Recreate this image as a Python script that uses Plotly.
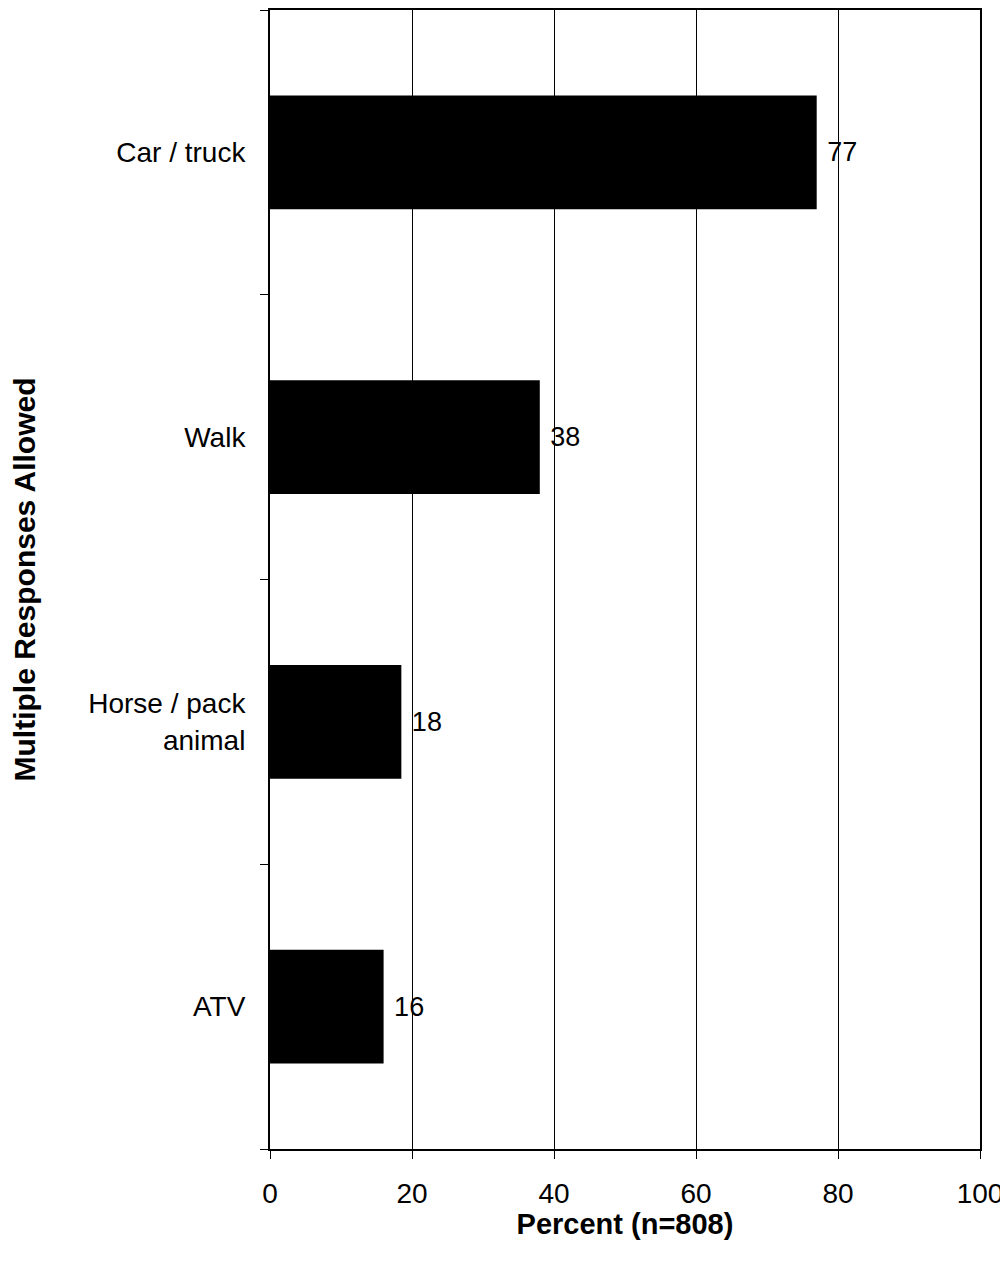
import plotly.graph_objects as go

categories = ["Car / truck", "Walk", "Horse / pack<br>animal", "ATV"]
values = [77, 38, 18.5, 16]
labels = ["77", "38", "18", "16"]
x_ticks = [0, 20, 40, 60, 80, 100]

fig = go.Figure(go.Bar(
    x=values, y=categories, orientation="h",
    marker=dict(color="black", line=dict(width=0)),
    width=0.4,
    text=[" " + t for t in labels], textposition="outside",
    textfont=dict(family="Liberation Sans, Arial", size=27, color="black"),
    cliponaxis=False,
))

fig.update_layout(
    width=1000, height=1232,
    margin=dict(l=262, r=28, t=2, b=91),
    plot_bgcolor="white", paper_bgcolor="white",
    font=dict(family="Liberation Sans, Arial", size=28, color="black"),
    showlegend=False,
    xaxis=dict(
        range=[0, 100], tickvals=x_ticks, ticks="outside", ticklen=8, tickcolor="black",
        showgrid=True, gridcolor="black", gridwidth=1,
        showline=True, linecolor="black", linewidth=2, mirror=True,
        zeroline=False, automargin=False, ticklabelstandoff=10,
        title=dict(text="<b>Percent (n=808)</b>", font=dict(size=29), standoff=0),
    ),
    yaxis=dict(
        type="category", categoryorder="array", categoryarray=categories[::-1],
        tickson="boundaries", ticks="outside", ticklen=8, tickcolor="black",
        showgrid=False, showline=True, linecolor="black", linewidth=2, mirror=True,
        ticklabelstandoff=17, automargin=False,
        title=dict(text="<b>Multiple Responses Allowed</b>", font=dict(size=30), standoff=44),
    ),
)

fig.write_html("out.html")
